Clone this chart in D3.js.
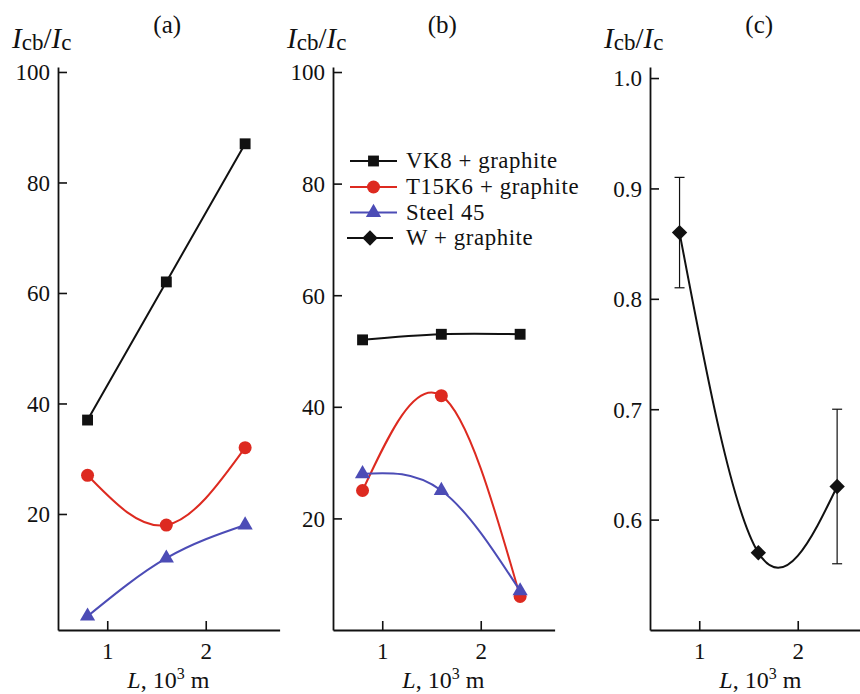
<!DOCTYPE html>
<html>
<head>
<meta charset="utf-8">
<script src="https://cdn.jsdelivr.net/npm/d3@7"></script>
<style>
  html, body { margin: 0; padding: 0; background: #fff; }
  svg { display: block; font-family: "Liberation Serif", "Times New Roman", serif; }
</style>
</head>
<body>
<svg id="chart" width="860" height="694"></svg>
<script>
// ---------- data ----------
const lengths = [0.8, 1.6, 2.4];            // L, 10^3 m
const xTicks = [1, 2];
const yTicksAB = [20, 40, 60, 80, 100];
const yTicksC = [0.6, 0.7, 0.8, 0.9, 1.0];

const vk8A = [37, 62, 87];
const t15k6A = [27, 18, 32];
const steelA = [1.5, 12, 18];

const vk8B = [52, 53, 53];
const t15k6B = [25, 42, 6];
const steelB = [28, 25, 7];

const wC = [0.86, 0.57, 0.63];
const wErrLow = [0.81, null, 0.56];
const wErrHigh = [0.91, null, 0.70];

const panelLabels = ["(a)", "(b)", "(c)"];
const legendNames = ["VK8 + graphite", "T15K6 + graphite", "Steel 45", "W + graphite"];

// ---------- style ----------
const RED = "#dd2a20", BLUE = "#4c4cb6", BLACK = "#111";
const FONT = '"Liberation Serif", "Times New Roman", serif';
const svg = d3.select("#chart");
const plotTop = 67, plotBottom = 630;

const panels = [
  { x0: 58,  yDomain: [-1, 100.9], ticks: yTicksAB, fmt: d3.format("d"),
    series: [
      { v: t15k6A, color: RED, sym: "circle" },
      { v: steelA, color: BLUE, sym: "triangle" },
      { v: vk8A, color: BLACK, sym: "square" } ] },
  { x0: 333, yDomain: [0, 100.9], ticks: yTicksAB, fmt: d3.format("d"),
    series: [
      { v: vk8B, color: BLACK, sym: "square" },
      { v: t15k6B, color: RED, sym: "circle" },
      { v: steelB, color: BLUE, sym: "triangle" } ] },
  { x0: 650, yDomain: [0.5, 1.01], ticks: yTicksC, fmt: d3.format(".1f"),
    series: [ { v: wC, color: BLACK, sym: "diamond", lo: wErrLow, hi: wErrHigh } ] }
];

function symbolPath(sym) {
  if (sym === "circle") return d3.symbol(d3.symbolCircle, 133)();
  if (sym === "triangle") return d3.symbol(d3.symbolTriangle, 100)();
  return d3.symbol(d3.symbolSquare, 118)();
}
function drawMarker(g, sym, color, x, y) {
  g.append("path")
    .attr("d", symbolPath(sym))
    .attr("fill", color)
    .attr("transform", `translate(${x},${y})` + (sym === "diamond" ? " rotate(45)" : ""));
}

panels.forEach((p, i) => {
  const x = d3.scaleLinear().domain([0.5, 2.75]).range([p.x0, p.x0 + 221.6]);
  const y = d3.scaleLinear().domain(p.yDomain).range([plotBottom, plotTop]);
  const g = svg.append("g");

  // axes
  const ya = g.append("g").attr("transform", `translate(${p.x0},0)`)
    .call(d3.axisLeft(y).tickValues(p.ticks).tickFormat(p.fmt)
      .tickSizeInner(-9).tickSizeOuter(0).tickPadding(8));
  const xa = g.append("g").attr("transform", `translate(0,${plotBottom})`)
    .call(d3.axisBottom(x).tickValues(xTicks).tickFormat(d3.format("d"))
      .tickSizeInner(-9).tickSizeOuter(0));
  [ya, xa].forEach(a => {
    a.attr("font-family", FONT);
    a.select(".domain").attr("stroke", BLACK).attr("stroke-width", 1.8);
    a.selectAll(".tick line").attr("stroke", BLACK).attr("stroke-width", 1.6);
    a.selectAll("text").attr("font-family", FONT).attr("font-size", 23).attr("fill", BLACK);
  });
  ya.selectAll("text").attr("dy", "0.34em");
  xa.selectAll("text").attr("y", 29).attr("dy", 0);

  // panel title
  g.append("text").attr("x", x(1) + 60).attr("y", 33).attr("text-anchor", "middle")
    .attr("font-size", 25).attr("fill", BLACK).text(panelLabels[i]);

  // y label  I_cb / I_c
  const yl = g.append("text").attr("x", p.x0 - 46).attr("y", 48).attr("font-size", 29).attr("fill", BLACK);
  yl.append("tspan").attr("font-style", "italic").text("I");
  yl.append("tspan").attr("font-size", 23).attr("dy", 2).text("cb");
  yl.append("tspan").attr("dy", -2).text("/");
  yl.append("tspan").attr("font-style", "italic").text("I");
  yl.append("tspan").attr("font-size", 23).attr("dy", 2).text("c");

  // x label  L, 10^3 m
  const xl = g.append("text").attr("x", x(1.62)).attr("y", 688).attr("text-anchor", "middle")
    .attr("font-size", 24).attr("fill", BLACK);
  xl.append("tspan").attr("font-style", "italic").text("L");
  xl.append("tspan").text(", 10");
  xl.append("tspan").attr("font-size", 16).attr("dy", -9).text("3");
  xl.append("tspan").attr("dy", 9).text(" m");

  const line = d3.line().curve(d3.curveNatural).x((d, k) => x(lengths[k])).y(d => y(d));

  p.series.forEach(s => {
    g.append("path").datum(s.v).attr("d", line).attr("fill", "none")
      .attr("stroke", s.color).attr("stroke-width", 2);
    if (s.lo) {
      s.v.forEach((d, k) => {
        if (s.lo[k] == null) return;
        const cx = x(lengths[k]);
        g.append("line").attr("x1", cx).attr("x2", cx).attr("y1", y(s.lo[k])).attr("y2", y(s.hi[k]))
          .attr("stroke", BLACK).attr("stroke-width", 1.2);
        [s.lo[k], s.hi[k]].forEach(e => g.append("line")
          .attr("x1", cx - 5).attr("x2", cx + 5).attr("y1", y(e)).attr("y2", y(e))
          .attr("stroke", BLACK).attr("stroke-width", 1.2));
      });
    }
    s.v.forEach((d, k) => drawMarker(g, s.sym, s.color, x(lengths[k]), y(d)));
  });
});

// ---------- legend (panel b) ----------
const legendItems = [
  { name: legendNames[0], color: BLACK, sym: "square", y: 161, x1: 350, x2: 397 },
  { name: legendNames[1], color: RED, sym: "circle", y: 187, x1: 350, x2: 397 },
  { name: legendNames[2], color: BLUE, sym: "triangle", y: 212.5, x1: 350, x2: 397 },
  { name: legendNames[3], color: BLACK, sym: "diamond", y: 238, x1: 347, x2: 393 }
];
const lg = svg.append("g");
legendItems.forEach(it => {
  lg.append("line").attr("x1", it.x1).attr("x2", it.x2).attr("y1", it.y).attr("y2", it.y)
    .attr("stroke", it.color).attr("stroke-width", 2);
  drawMarker(lg, it.sym, it.color, (it.x1 + it.x2) / 2, it.y);
  lg.append("text").attr("x", 406).attr("y", it.y + 7).attr("font-size", 22.8)
    .attr("letter-spacing", 0.6).attr("fill", BLACK).text(it.name);
});
</script>
</body>
</html>
